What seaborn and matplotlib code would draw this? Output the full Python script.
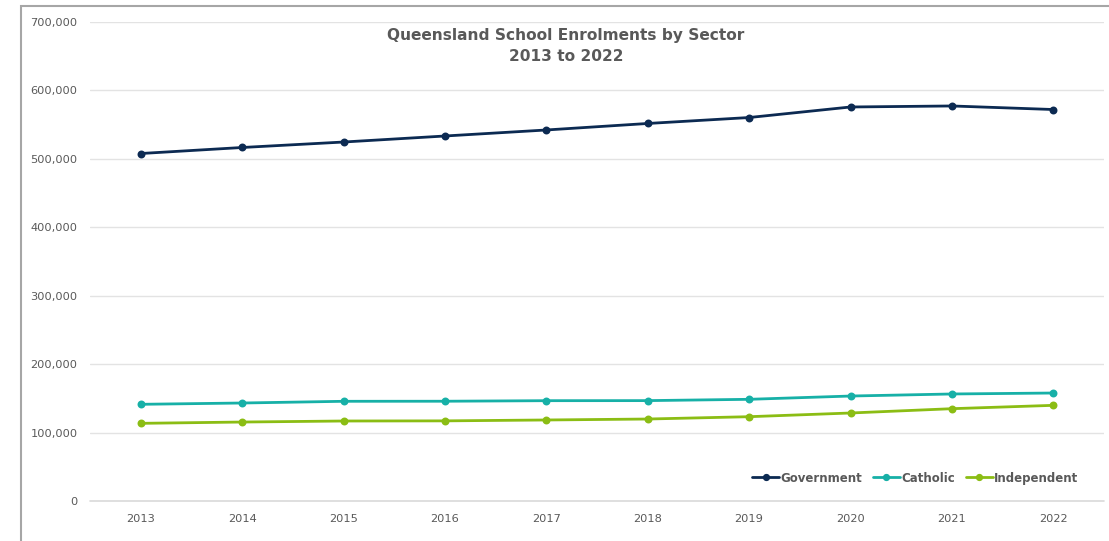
import matplotlib
matplotlib.use("Agg")
import matplotlib.pyplot as plt
import matplotlib.patches as mpatches
from matplotlib.lines import Line2D
from matplotlib.ticker import FuncFormatter
import seaborn as sns
import pandas as pd

years = [2013, 2014, 2015, 2016, 2017, 2018, 2019, 2020, 2021, 2022]
government = [507800, 516600, 524600, 533400, 542200, 551700, 560400, 575800, 577300, 572100]
catholic = [141300, 143200, 145700, 145800, 146600, 146700, 148600, 153400, 156400, 157800]
independent = [113500, 115400, 116900, 117100, 118400, 119800, 123200, 128600, 134900, 139800]
sectors = ["Government", "Catholic", "Independent"]
colors = ["#0c2a52", "#17b0a7", "#8bbd14"]

df = pd.DataFrame({
    "Year": [str(y) for y in years] * 3,
    "Enrolments": government + catholic + independent,
    "Sector": [s for s in sectors for _ in years],
})

sns.set_theme(style="white")
plt.rcParams["font.family"] = ["DejaVu Sans"]

fig = plt.figure(figsize=(11.09, 5.41), dpi=100)
ax = fig.add_axes([90 / 1109, 1 - 501 / 541, 1014 / 1109, 479 / 541])

sns.pointplot(data=df, x="Year", y="Enrolments", hue="Sector", palette=colors,
              hue_order=sectors, markers="o", linestyles="-", markersize=4.2,
              linewidth=2.0, errorbar=None, ax=ax, legend=False)

ax.set_ylim(0, 700000)
ax.set_xlim(-0.5, len(years) - 0.5)
ax.set_yticks(range(0, 700001, 100000))
ax.yaxis.set_major_formatter(FuncFormatter(lambda v, p: f"{int(v):,}"))
ax.grid(axis="y", color="#e3e3e3", linewidth=1)
ax.axhline(0, color="#d9d9d9", linewidth=1.2, clip_on=False, zorder=0)
ax.set_axisbelow(True)
for s in ax.spines.values():
    s.set_visible(False)
ax.tick_params(axis="both", length=0, labelsize=8.2, labelcolor="#595959")
ax.tick_params(axis="y", pad=9)
ax.tick_params(axis="x", pad=9)
ax.set_xlabel("")
ax.set_ylabel("")

fig.text(566 / 1109, 1 - 46 / 541, "Queensland School Enrolments by Sector\n2013 to 2022",
         ha="center", va="center", fontsize=11.1, fontweight="bold", color="#595959",
         linespacing=1.55)

handles = [Line2D([0], [0], color=c, lw=2.0, marker="o", markersize=4.2) for c in colors]
leg = ax.legend(handles, sectors, loc="lower right", bbox_to_anchor=(0.985, 0.012),
                ncol=3, frameon=False, handlelength=2.3, handletextpad=0.1,
                columnspacing=0.9, prop={"weight": "bold", "size": 8.5})
for t in leg.get_texts():
    t.set_color("#595959")

frame = mpatches.Rectangle((21 / 1109, -0.05), 1.2, 1 - 6 / 541 + 0.05,
                           transform=fig.transFigure, fill=False,
                           edgecolor="#a6a6a6", linewidth=1.5)
fig.patches.append(frame)

fig.savefig("out.png", dpi=100)
